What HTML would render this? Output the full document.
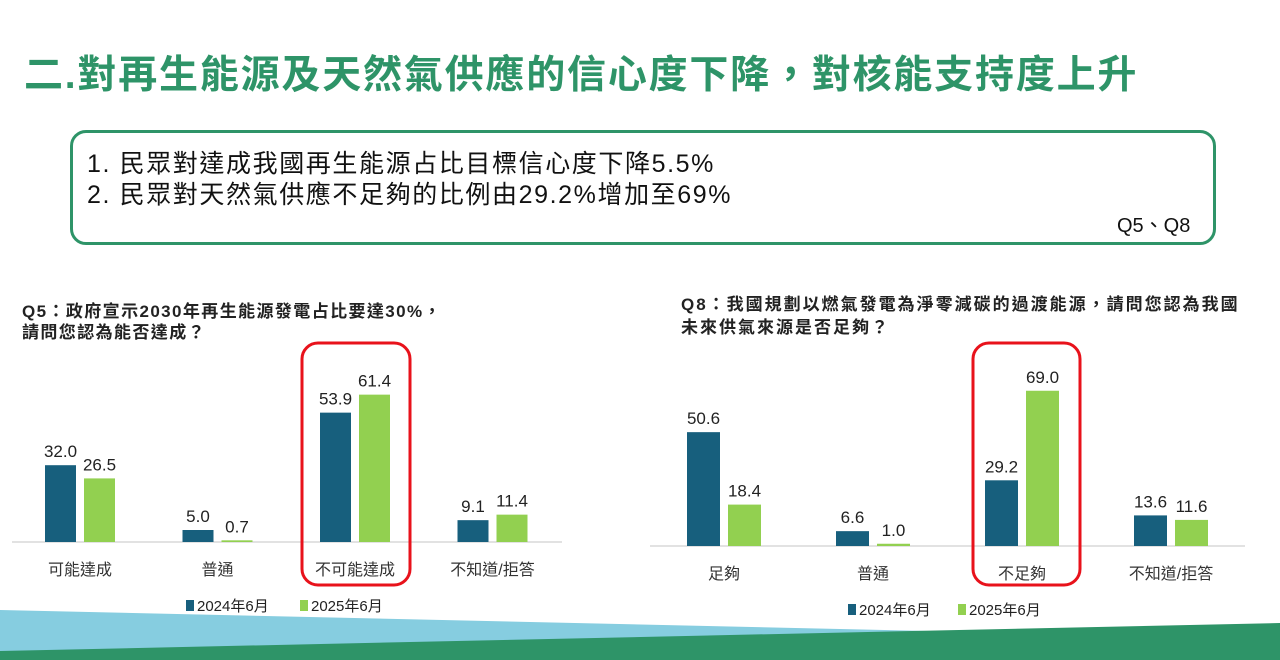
<!DOCTYPE html>
<html><head><meta charset="utf-8">
<style>
body{margin:0;width:1280px;height:660px;overflow:hidden;background:#fff;font-family:"Liberation Sans","Noto Sans CJK TC",sans-serif;position:relative}
.abs{position:absolute;white-space:nowrap}
</style></head><body>
<div class="abs" style="left:24px;top:44px;font-size:39px;font-weight:bold;color:#2e9468;letter-spacing:1.8px">二.對再生能源及天然氣供應的信心度下降，對核能支持度上升</div>
<div class="abs" style="left:70px;top:130px;width:1140px;height:109px;border:3px solid #2e9468;border-radius:16px"></div>
<div class="abs" style="left:87px;top:144px;font-size:25px;letter-spacing:1.6px;color:#111">1. 民眾對達成我國再生能源占比目標信心度下降5.5%</div>
<div class="abs" style="left:87px;top:175px;font-size:25px;letter-spacing:1.6px;color:#111">2. 民眾對天然氣供應不足夠的比例由29.2%增加至69%</div>
<div class="abs" style="left:1117px;top:209px;font-size:20px;color:#111">Q5、Q8</div>
<div class="abs" style="left:22px;top:301px;font-size:17px;letter-spacing:1.4px;font-weight:bold;color:#222;line-height:21px">Q5：政府宣示2030年再生能源發電占比要達30%，<br>請問您認為能否達成？</div>
<div class="abs" style="left:681px;top:293px;font-size:17px;letter-spacing:2px;font-weight:bold;color:#222;line-height:23px">Q8：我國規劃以燃氣發電為淨零減碳的過渡能源，請問您認為我國<br>未來供氣來源是否足夠？</div>
<svg id="chart" width="1280" height="660" style="position:absolute;left:0;top:0">
<polygon points="0,610 930,631 1280,625 1280,660 0,660" fill="#86cde0"/>
<polygon points="0,651 1280,623 1280,660 0,660" fill="#2e9468"/>
</svg>
<script>
const q5Categories=["可能達成","普通","不可能達成","不知道/拒答"];
const q5Series2024=[32.0,5.0,53.9,9.1];
const q5Series2025=[26.5,0.7,61.4,11.4];
const q8Categories=["足夠","普通","不足夠","不知道/拒答"];
const q8Series2024=[50.6,6.6,29.2,13.6];
const q8Series2025=[18.4,1.0,69.0,11.6];
const legendLabels=["2024年6月","2025年6月"];
const NS="http://www.w3.org/2000/svg";
const svg=document.getElementById('chart');
function mk(tag,attrs,text){const e=document.createElementNS(NS,tag);for(const k in attrs)e.setAttribute(k,attrs[k]);if(text!==undefined)e.textContent=text;svg.appendChild(e);return e;}
function drawChart(cfg){
 const {cats,a,b,base,scale,x0,x1,c0,step,bw,gap,prefix,box,legY,legX}=cfg;
 const ax=mk('line',{x1:x0,x2:x1,y1:base,y2:base,stroke:'#d9d9d9','stroke-width':1.5});
 
 
 const yOf=v=>base-v*scale;
 cats.forEach((c,i)=>{
  const cx=c0+i*step;
  [[a[i],cx-gap-bw,'#175f7d','2024'],[b[i],cx+gap,'#92d050','2025']].forEach(([v,x,col,yr])=>{
   const r=mk('rect',{x:x,y:yOf(v),width:bw,height:base-yOf(v),fill:col});
   
   
   const t=mk('text',{x:x+bw/2,y:yOf(v)-8,'text-anchor':'middle','font-size':17,fill:'#222'},v.toFixed(1));
   
   
  });
  const l=mk('text',{x:cx,y:base+33,'text-anchor':'middle','font-size':16,fill:'#333'},c);
  
  
 });
 const rb=mk('rect',{x:box[0],y:box[1],width:box[2],height:box[3],rx:16,fill:'none',stroke:'#e8121b','stroke-width':3});
 
 
 [['#175f7d',legX[0],legendLabels[0]],['#92d050',legX[1],legendLabels[1]]].forEach(([col,x,txt])=>{
  const s=mk('rect',{x:x,y:legY-11,width:8,height:11,fill:col});
  
  
  const t=mk('text',{x:x+11,y:legY,'font-size':15,fill:'#222'},txt);
  
  
 });
}
drawChart({cats:q5Categories,a:q5Series2024,b:q5Series2025,base:542,scale:2.4,x0:12,x1:562,c0:80,step:137.5,bw:31,gap:4,prefix:'q5',box:[302,343,108,242],legY:611,legX:[186,300]});
drawChart({cats:q8Categories,a:q8Series2024,b:q8Series2025,base:546,scale:2.25,x0:650,x1:1245,c0:724,step:149,bw:33,gap:4,prefix:'q8',box:[973,343,107,242],legY:615,legX:[848,958]});
</script>
</body></html>
